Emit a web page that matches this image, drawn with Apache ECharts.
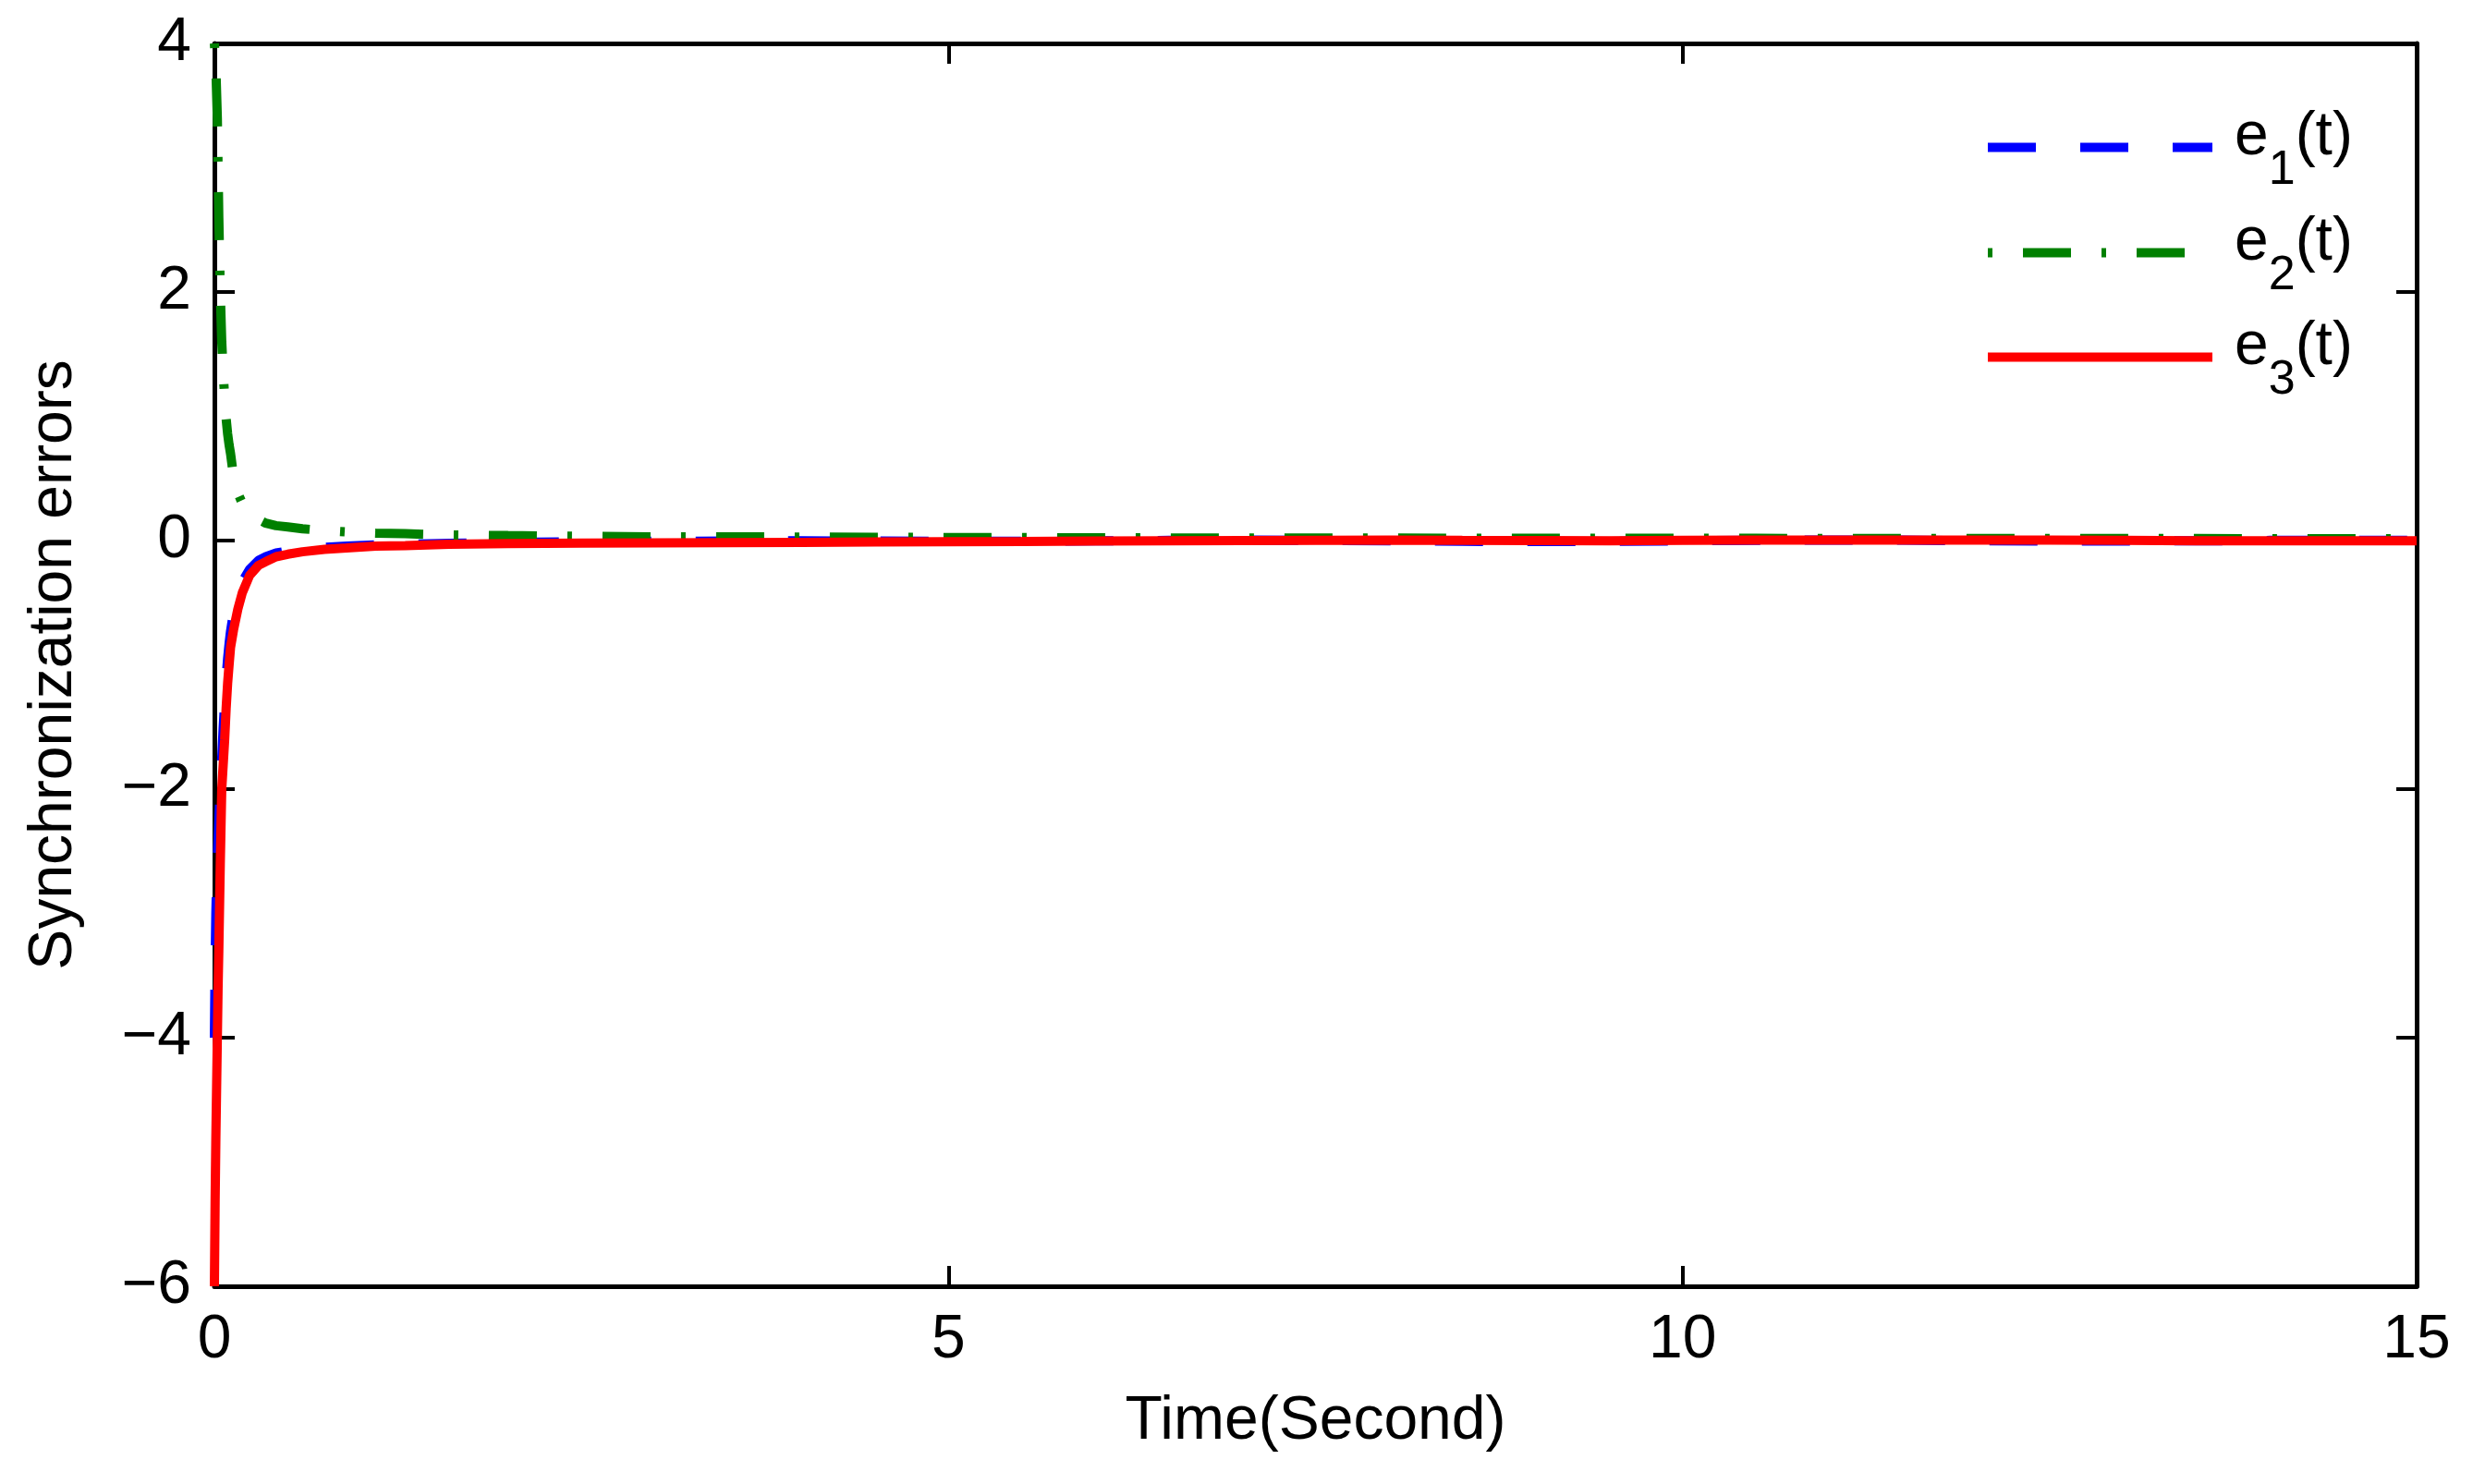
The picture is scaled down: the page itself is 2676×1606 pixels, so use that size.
<!DOCTYPE html>
<html>
<head>
<meta charset="utf-8">
<script src="https://cdn.jsdelivr.net/npm/echarts@6/dist/echarts.min.js"></script>
<style>
  html, body { margin: 0; padding: 0; background: #fff; }
  #chart { width: 2676px; height: 1606px; }
</style>
</head>
<body>
<div id="chart"></div>
<script>
// time samples (s)
const time = [0, 0.005, 0.01, 0.015, 0.02, 0.025, 0.03, 0.04, 0.05, 0.06, 0.07, 0.08, 0.09, 0.1, 0.11,
  0.13, 0.16, 0.19, 0.24, 0.3, 0.35, 0.42, 0.5, 0.6, 0.75, 0.9, 1.1, 1.3, 1.6, 2,
  2.5, 3, 3.5, 4, 4.5, 5, 5.5, 6, 6.5, 7, 7.5, 8, 8.5, 9, 9.5, 10, 10.5, 11, 11.5, 12, 12.5, 13, 13.5, 14, 14.5, 15];

const e1 = [-4.0, -3.4, -3.0, -2.75, -2.55, -2.4, -2.25, -2.0, -1.75, -1.5, -1.3, -1.1, -0.95, -0.83, -0.73,
  -0.58, -0.43, -0.33, -0.23, -0.16, -0.13, -0.1, -0.085, -0.07, -0.055, -0.045, -0.035, -0.03, -0.022, -0.016,
  -0.01, -0.006, -0.004, -0.002, -0.004, -0.006, -0.005, -0.002, 0.001, 0.003, 0.002, -0.002, -0.006, -0.008, -0.006, -0.002,
  0.002, 0.004, 0.003, -0.001, -0.004, -0.004, -0.002, 0.001, 0.003, 0.002];

const e2 = [4.0, 3.9, 3.8, 3.6, 3.4, 3.0, 2.6, 2.0, 1.6, 1.35, 1.15, 0.98, 0.86, 0.77, 0.7,
  0.52, 0.38, 0.3, 0.22, 0.17, 0.14, 0.12, 0.11, 0.095, 0.08, 0.07, 0.06, 0.055, 0.045, 0.04,
  0.035, 0.03, 0.03, 0.028, 0.026, 0.025, 0.024, 0.022, 0.021, 0.02, 0.02, 0.02, 0.019, 0.019, 0.018, 0.018,
  0.018, 0.017, 0.017, 0.017, 0.016, 0.016, 0.016, 0.015, 0.015, 0.015];

const e3 = [-6.0, -5.3, -4.8, -4.4, -4.0, -3.6, -3.3, -2.6, -2.0, -1.8, -1.6, -1.35, -1.15, -1.0, -0.86,
  -0.72, -0.55, -0.42, -0.28, -0.2, -0.17, -0.13, -0.11, -0.09, -0.07, -0.06, -0.045, -0.04, -0.03, -0.025,
  -0.02, -0.018, -0.016, -0.014, -0.012, -0.01, -0.008, -0.004, -0.002, 0, 0.002, 0.003, 0.001, 0, -0.002, 0.002,
  0.004, 0.004, 0.004, 0.003, 0.004, 0.002, -0.002, -0.002, -0.002, -0.001];

const seriesNames = ["e1(t)", "e2(t)", "e3(t)"];
const subs = ["1", "2", "3"];
const colors = ["#0000ff", "#008000", "#ff0000"];
const legendCenters = [159.5, 273.5, 386.5];

const FONT = "'Liberation Sans', Arial, Helvetica, sans-serif";

const chart = echarts.init(document.getElementById("chart"), null, { renderer: "canvas" });

const pairs = (ys) => time.map((t, i) => [t, ys[i]]);

const lineTypes = [
  { type: [52, 48], dashOffset: 0 },
  { type: [52, 33, 5, 33], dashOffset: 85 },
  { type: "solid", dashOffset: 0 },
];

const series = seriesNames.map((name, i) => ({
  name,
  type: "line",
  data: pairs([e1, e2, e3][i]),
  symbol: "none",
  smooth: false,
  lineStyle: { width: 10, color: colors[i], type: lineTypes[i].type, dashOffset: lineTypes[i].dashOffset, cap: "butt" },
  itemStyle: { color: colors[i] },
  z: 2 + i,
}));

const legends = seriesNames.map((name, i) => ({
  data: [name],
  orient: "vertical",
  left: 2146,
  top: legendCenters[i] - 52,
  padding: 0,
  itemWidth: 243,
  itemHeight: 130,
  selectedMode: false,
  itemStyle: { opacity: 0 },
  lineStyle: { width: 10 },
  formatter: () => `{f|e}{s|${subs[i]}}{b|(t)}`,
  textStyle: {
    color: "#000",
    fontFamily: FONT,
    rich: {
      f: { fontSize: 66, lineHeight: 66, fontFamily: FONT, color: "#000", padding: [0, 0, 22, 19] },
      b: { fontSize: 66, lineHeight: 66, fontFamily: FONT, color: "#000", padding: [0, 0, 22, 0] },
      s: { fontSize: 52, lineHeight: 52, fontFamily: FONT, color: "#000", padding: [51, 0, 0, 0] },
    },
  },
}));

const axisLine = { show: true, onZero: false, lineStyle: { color: "#000", width: 5 } };
const tick = { show: true, inside: true, length: 22, lineStyle: { color: "#000", width: 4 } };
const labelBase = { color: "#000", fontSize: 66, fontFamily: FONT };

const option = {
  animation: false,
  backgroundColor: "#fff",
  grid: { left: 232, right: 61, top: 47, bottom: 214, containLabel: false },
  legend: legends,
  xAxis: [
    {
      type: "value", min: 0, max: 15, interval: 5, position: "bottom",
      axisLine, axisTick: tick, splitLine: { show: false },
      axisLabel: { ...labelBase, margin: 26 },
      name: "Time(Second)", nameLocation: "middle", nameGap: 114,
      nameTextStyle: { ...labelBase },
    },
    {
      type: "value", min: 0, max: 15, interval: 5, position: "top",
      axisLine, axisTick: tick, splitLine: { show: false }, axisLabel: { show: false },
    },
  ],
  yAxis: [
    {
      type: "value", min: -6, max: 4, interval: 2, position: "left",
      axisLine, axisTick: tick, splitLine: { show: false },
      axisLabel: { ...labelBase, margin: 25, formatter: (v) => String(v).replace("-", "\u2212") },
      name: "Synchronization errors", nameLocation: "middle", nameGap: 140,
      nameTextStyle: { ...labelBase },
    },
    {
      type: "value", min: -6, max: 4, interval: 2, position: "right",
      axisLine, axisTick: tick, splitLine: { show: false }, axisLabel: { show: false },
    },
  ],
  series,
};

chart.setOption(option);
</script>
</body>
</html>
